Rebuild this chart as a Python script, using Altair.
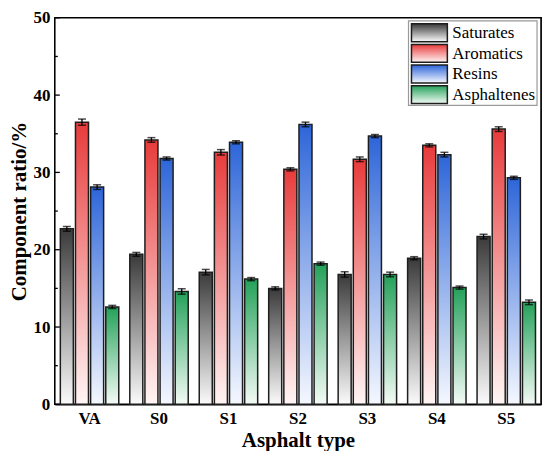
import altair as alt
import pandas as pd

groups = ["VA", "S0", "S1", "S2", "S3", "S4", "S5"]
components = ["Saturates", "Aromatics", "Resins", "Asphaltenes"]
saturates = [22.7, 19.4, 17.1, 15.0, 16.8, 18.9, 21.7]
aromatics = [36.5, 34.2, 32.6, 30.4, 31.7, 33.5, 35.6]
resins = [28.1, 31.8, 33.9, 36.2, 34.7, 32.3, 29.3]
asphaltenes = [12.6, 14.6, 16.2, 18.2, 16.8, 15.1, 13.2]
err_sat = [0.3, 0.25, 0.35, 0.2, 0.35, 0.2, 0.3]
err_aro = [0.4, 0.3, 0.35, 0.2, 0.3, 0.2, 0.3]
err_res = [0.3, 0.2, 0.2, 0.3, 0.2, 0.3, 0.2]
err_asp = [0.2, 0.35, 0.2, 0.2, 0.3, 0.2, 0.3]
top_colors = ["#3a3a3a", "#e83b3b", "#2d65d8", "#23a159"]
bottom_colors = ["#fbfbfb", "#fff5f5", "#f5f8ff", "#f4fbf6"]
y_major = [0, 10, 20, 30, 40, 50]
y_minor = [5, 15, 25, 35, 45]

series = [saturates, aromatics, resins, asphaltenes]
errs = [err_sat, err_aro, err_res, err_asp]
rows = []
for comp, vals, ers in zip(components, series, errs):
    for g, v, e in zip(groups, vals, ers):
        rows.append({"group": g, "component": comp, "value": v,
                     "lo": v - e, "hi": v + e})
df = pd.DataFrame(rows)
legend_df = pd.DataFrame({"component": components})

FONT = "Liberation Serif"
W, H = 488, 388


def grad(tc, bc):
    return alt.Gradient(gradient="linear", x1=0, x2=0, y1=0, y2=1,
                        stops=[alt.GradientStop(offset=0, color=tc),
                               alt.GradientStop(offset=1, color=bc)])


x_enc = alt.X("group:N", sort=groups,
              scale=alt.Scale(domain=groups, paddingInner=0.15, paddingOuter=0.075),
              axis=alt.Axis(title="Asphalt type", labelAngle=0, ticks=False,
                            labelFontSize=17, labelFontWeight="bold", labelFont=FONT,
                            labelPadding=6, titleFontSize=21, titleFontWeight="bold",
                            titleFont=FONT, titlePadding=3, domainColor="black",
                            domainWidth=1.5, labelColor="black", titleColor="black"))
xo_enc = alt.XOffset("component:N", sort=components,
                     scale=alt.Scale(domain=components, paddingInner=0.14, paddingOuter=0.02))
y_scale = alt.Scale(domain=[0, 50], nice=False)
y_enc = alt.Y("value:Q", scale=y_scale,
              axis=alt.Axis(title="Component ratio/%", values=y_major, ticks=False,
                            grid=False, labelFontSize=17, labelFontWeight="bold",
                            labelFont=FONT, labelPadding=5, titleFontSize=21,
                            titleFontWeight="bold", titleFont=FONT, titlePadding=3,
                            domainColor="black", domainWidth=1.5, labelColor="black",
                            titleColor="black"))


def single():
    return alt.Chart(legend_df).transform_filter(alt.datum.component == components[0])


# plot frame, drawn underneath everything else
frame = single().mark_rect(fill="white", stroke="black", strokeWidth=1.5).encode(
    x=alt.value(0), x2=alt.value(W), y=alt.value(0), y2=alt.value(H))

base = alt.Chart(df)
layers = []
for comp, tc, bc in zip(components, top_colors, bottom_colors):
    layers.append(
        base.transform_filter(alt.datum.component == comp)
        .mark_bar(color=grad(tc, bc), stroke="#1e1e1e", strokeWidth=1.5)
        .encode(x=x_enc, xOffset=xo_enc, y=y_enc)
    )

err_rule = base.mark_rule(color="black", strokeWidth=1.3).encode(
    x=x_enc, xOffset=xo_enc, y=alt.Y("lo:Q", scale=y_scale), y2="hi:Q")
cap_hi = base.mark_tick(color="black", thickness=1.5, size=8).encode(
    x=x_enc, xOffset=xo_enc, y=alt.Y("hi:Q", scale=y_scale))
cap_lo = base.mark_tick(color="black", thickness=1.5, size=8).encode(
    x=x_enc, xOffset=xo_enc, y=alt.Y("lo:Q", scale=y_scale))

# legend panel in the upper right of the plot
LX0, LX1, LY0, LY1 = 355, 484, 3, 88
SX0, SX1, ROW0, ROWH, SYMH = 358, 394, 6, 20.7, 18
leg_box = single().mark_rect(fill="white", stroke="#9a9a9a", strokeWidth=1.2).encode(
    x=alt.value(LX0), x2=alt.value(LX1), y=alt.value(LY0), y2=alt.value(LY1))
leg_layers = [leg_box]
for i, (comp, tc, bc) in enumerate(zip(components, top_colors, bottom_colors)):
    top = ROW0 + i * ROWH
    src = alt.Chart(legend_df).transform_filter(alt.datum.component == comp)
    leg_layers.append(src.mark_rect(color=grad(tc, bc), stroke="#1e1e1e", strokeWidth=1.5).encode(
        x=alt.value(SX0), x2=alt.value(SX1), y=alt.value(top), y2=alt.value(top + SYMH)))
    leg_layers.append(src.mark_text(align="left", baseline="middle", font=FONT, fontSize=17,
                                    fontWeight="normal", color="black").encode(
        x=alt.value(SX1 + 5), y=alt.value(top + SYMH / 2 + 0.5), text="component:N"))

tick_df_major = pd.DataFrame({"v": y_major})
tick_df_minor = pd.DataFrame({"v": y_minor})
major_ticks = alt.Chart(tick_df_major).mark_rule(color="black", strokeWidth=1.3).encode(
    y=alt.Y("v:Q", scale=y_scale), x=alt.value(0), x2=alt.value(5))
minor_ticks = alt.Chart(tick_df_minor).mark_rule(color="black", strokeWidth=1.3).encode(
    y=alt.Y("v:Q", scale=y_scale), x=alt.value(0), x2=alt.value(3))

chart = alt.layer(frame, *layers, err_rule, cap_hi, cap_lo, *leg_layers,
                  major_ticks, minor_ticks).properties(
    width=W, height=H,
    padding={"left": 1, "top": 0, "right": 0, "bottom": 0},
    background="white"
).configure_view(stroke="black", strokeWidth=1.5).configure_text(font=FONT)

chart.save("out.html", embed_options={"renderer": "svg", "actions": False})
